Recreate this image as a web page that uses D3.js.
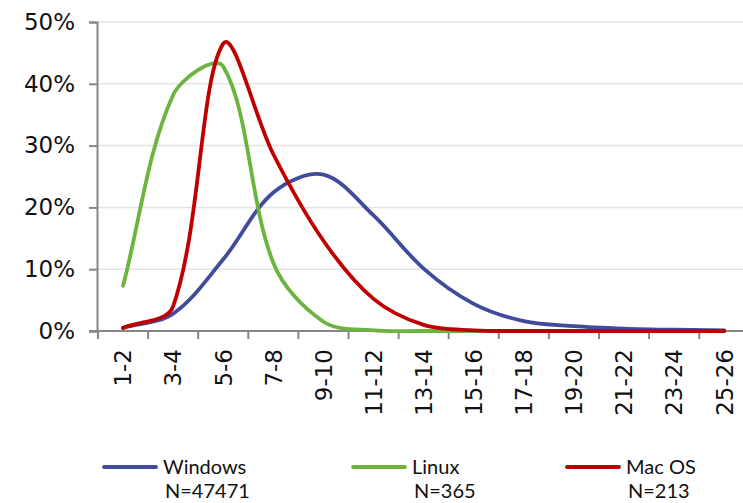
<!DOCTYPE html>
<html><head><meta charset="utf-8">
<script src="https://cdn.jsdelivr.net/npm/d3@7"></script>
<style>body{margin:0;background:#fff}svg{display:block}</style>
</head><body>
<svg id="chart" width="743" height="503"></svg>
<script>
const categories = ["1-2","3-4","5-6","7-8","9-10","11-12","13-14","15-16","17-18","19-20","21-22","23-24","25-26"];
const windowsVals = [0.5, 2.8, 11.6, 22.4, 25.3, 18.7, 10.1, 4.4, 1.6, 0.8, 0.4, 0.2, 0.1];
const linuxVals   = [7.3, 38.2, 42.8, 11.0, 1.5, 0.1, 0.0, 0.0, 0.0, 0.0, 0.0, 0.0, 0.0];
const macVals     = [0.5, 4.0, 46.5, 28.6, 14.6, 5.2, 1.0, 0.1, 0.0, 0.0, 0.0, 0.0, 0.0];
const yTicks = [0, 10, 20, 30, 40, 50];
const seriesNames = ["Windows", "Linux", "Mac OS"];
const seriesN = ["N=47471", "N=365", "N=213"];
const colors = ["#414b9b", "#6db33f", "#c00000"];

const svg = d3.select("#chart");
const x = d3.scaleBand().domain(categories).range([98, 749.3]).padding(0);
const y = d3.scaleLinear().domain([0, 50]).range([331, 22]);

// gridlines
svg.append("g").selectAll("line").data(yTicks.filter(d => d > 0)).join("line")
  .attr("x1", 98).attr("x2", 743)
  .attr("y1", d => y(d)).attr("y2", d => y(d))
  .attr("stroke", "#e4e4e4").attr("stroke-width", 1.5);

// y axis
const yAxis = svg.append("g").attr("transform", "translate(97,0)")
  .call(d3.axisLeft(y).tickValues(yTicks).tickFormat(d => d + "%").tickSize(8).tickPadding(14));
yAxis.select(".domain").attr("stroke", "#868686").attr("stroke-width", 2);
yAxis.selectAll(".tick line").attr("stroke", "#868686").attr("stroke-width", 2);
yAxis.selectAll("text").attr("font-family", "DejaVu Sans, Verdana, sans-serif").attr("font-size", 23).attr("fill", "#111");

// x axis
const xAxis = svg.append("g").attr("transform", "translate(0,331)")
  .call(d3.axisBottom(x).tickSize(0).tickSizeOuter(0));
xAxis.select(".domain").attr("d", "M89,0H743").attr("stroke", "#868686").attr("stroke-width", 2);
svg.append("g").selectAll("line").data(categories).join("line")
  .attr("x1", d => x(d)).attr("x2", d => x(d))
  .attr("y1", 331).attr("y2", 339)
  .attr("stroke", "#868686").attr("stroke-width", 2);
xAxis.selectAll(".tick text")
  .attr("font-family", "DejaVu Sans, Verdana, sans-serif").attr("font-size", 23).attr("fill", "#111")
  .attr("text-anchor", "end")
  .attr("transform", "rotate(-90)")
  .attr("x", -18).attr("y", 0).attr("dy", "0.36em");

// Excel-like smoothed line (chord-weighted Bezier tangents)
function smoothPath(vals) {
  const pts = vals.map((v, i) => [x(categories[i]) + x.bandwidth() / 2, y(v)]);
  const p = d3.path();
  const n = pts.length;
  const dist = (a, b) => Math.hypot(b[0] - a[0], b[1] - a[1]);
  function ctrl(i) {
    const prev = pts[Math.max(0, i - 1)], cur = pts[i], next = pts[Math.min(n - 1, i + 1)];
    const T = [next[0] - prev[0], next[1] - prev[1]];
    const d1 = dist(prev, cur), d2 = dist(cur, next), s = d1 + d2 || 1;
    return {
      before: [cur[0] - T[0] / 3 * d1 / s, cur[1] - T[1] / 3 * d1 / s],
      after:  [cur[0] + T[0] / 3 * d2 / s, cur[1] + T[1] / 3 * d2 / s]
    };
  }
  const c = pts.map((_, i) => ctrl(i));
  p.moveTo(pts[0][0], pts[0][1]);
  for (let i = 0; i < n - 1; i++) {
    p.bezierCurveTo(c[i].after[0], c[i].after[1], c[i + 1].before[0], c[i + 1].before[1], pts[i + 1][0], pts[i + 1][1]);
  }
  return p.toString();
}

[windowsVals, linuxVals, macVals].forEach((vals, k) => {
  svg.append("path")
    .attr("d", smoothPath(vals))
    .attr("fill", "none")
    .attr("stroke", colors[k])
    .attr("stroke-width", 3.8)
    .attr("stroke-linecap", "round")
    .attr("stroke-linejoin", "round");
});

// legend
const legX = [104, 353, 567];
const lg = svg.append("g");
seriesNames.forEach((name, k) => {
  lg.append("line").attr("x1", legX[k]).attr("x2", legX[k] + 52)
    .attr("y1", 467).attr("y2", 467)
    .attr("stroke", colors[k]).attr("stroke-width", 3.8).attr("stroke-linecap", "round");
  lg.append("text").attr("x", legX[k] + 59).attr("y", 474)
    .attr("font-family", "Lato, Open Sans, sans-serif").attr("font-size", 20).attr("fill", "#111")
    .text(name);
  lg.append("text").attr("x", legX[k] + 61).attr("y", 498)
    .attr("font-family", "Lato, Open Sans, sans-serif").attr("font-size", 20).attr("fill", "#111")
    .text(seriesN[k]);
});
</script>
</body></html>
